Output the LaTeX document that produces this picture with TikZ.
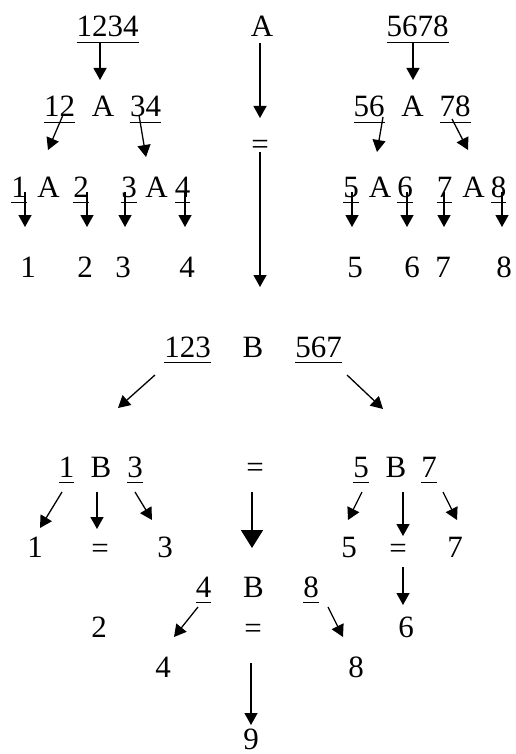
\documentclass[tikz,border=0pt]{standalone}
\usepackage{fontspec}
\setmainfont{Liberation Serif}
\usetikzlibrary{arrows.meta}
\tikzset{
  t/.style={inner sep=0pt, outer sep=0pt, anchor=base, font=\fontsize{31}{31}\selectfont},
  arr/.style={line width=1.3pt, -{Triangle[length=12pt,width=13pt]}},
  bigarr/.style={line width=1.8pt, -{Triangle[length=18pt,width=22pt]}},
  ulline/.style={line width=1.8pt},
}
\newcommand{\ulnode}[1]{\draw[ulline] ([yshift=-5.5pt]#1.base west) -- ([yshift=-5.5pt]#1.base east);}
\begin{document}
\begin{tikzpicture}[x=1pt,y=-1pt]
\useasboundingbox (0,0) rectangle (515,754);
% ---------- left tree ----------
\node[t] (n1234) at (107.5,37) {1234};
\node[t] (l12) at (59.5,117) {12};
\node[t] (lA) at (103,117) {A};
\node[t] (l34) at (145.5,117) {34};
\node[t] (l1) at (19,197) {1};
\node[t] (lA1) at (48.5,197) {A};
\node[t] (l2) at (81,197) {2};
\node[t] (l3) at (129,197) {3};
\node[t] (lA2) at (156.5,197) {A};
\node[t] (l4) at (182.5,197) {4};
\node[t] (o1) at (28,277) {1};
\node[t] (o2) at (85,277) {2};
\node[t] (o3) at (123,277) {3};
\node[t] (o4) at (187,277) {4};
\foreach \n in {n1234,l12,l34,l1,l2,l3,l4} {\ulnode{\n}}
\draw[arr] ([shift={(-7.5,6)}]n1234.base) -- ([shift={(-3,-37)}]lA.base);
\draw[arr] ([shift={(3.5,-2)}]l12.base) -- ([shift={(-0.5,-47)}]lA1.base);
\draw[arr] ([shift={(-6.5,-2)}]l34.base) -- ([shift={(-10.5,-40)}]lA2.base);
\draw[arr] ([shift={(6,-5)}]l1.base) -- ([shift={(-3,-50)}]o1.base);
\draw[arr] ([shift={(6,-5)}]l2.base) -- ([shift={(2,-50)}]o2.base);
\draw[arr] ([shift={(-4,-5)}]l3.base) -- ([shift={(2,-50)}]o3.base);
\draw[arr] ([shift={(2.5,-5)}]l4.base) -- ([shift={(-2,-50)}]o4.base);
% ---------- centre top ----------
\node[t] (Atop) at (262,37) {A};
\node[t] (eqtop) at (260,155) {=};
\draw[arr] ([shift={(-2,6)}]Atop.base) -- ([shift={(0,-37)}]eqtop.base);
% ---------- right tree ----------
\node[t] (n5678) at (417.5,37) {5678};
\node[t] (r56) at (369,117) {56};
\node[t] (rA) at (412.5,117) {A};
\node[t] (r78) at (455,117) {78};
\node[t] (r5) at (351,197) {5};
\node[t] (rA1) at (380,197) {A};
\node[t] (r6) at (405,197) {6};
\node[t] (r7) at (444.5,197) {7};
\node[t] (rA2) at (473.5,197) {A};
\node[t] (r8) at (498.5,197) {8};
\node[t] (p5) at (355,277) {5};
\node[t] (p6) at (412,277) {6};
\node[t] (p7) at (443,277) {7};
\node[t] (p8) at (504,277) {8};
\foreach \n in {n5678,r56,r78,r5,r6,r7,r8} {\ulnode{\n}}
\draw[arr] ([shift={(-4.5,6)}]n5678.base) -- ([shift={(0.5,-37)}]rA.base);
\draw[arr] ([shift={(14,0)}]r56.base) -- ([shift={(-3,-45)}]rA1.base);
\draw[arr] ([shift={(-3,2)}]r78.base) -- ([shift={(-5.5,-47)}]rA2.base);
\draw[arr] ([shift={(1,-5)}]r5.base) -- ([shift={(-3,-50)}]p5.base);
\draw[arr] ([shift={(2,-5)}]r6.base) -- ([shift={(-5,-50)}]p6.base);
\draw[arr] ([shift={(-0.5,-5)}]r7.base) -- ([shift={(1,-50)}]p7.base);
\draw[arr] ([shift={(3.5,-5)}]r8.base) -- ([shift={(-2,-50)}]p8.base);
% ---------- middle row ----------
\node[t] (m123) at (187.5,357) {123};
\node[t] (mB) at (253,357) {B};
\node[t] (m567) at (318.5,357) {567};
\foreach \n in {m123,m567} {\ulnode{\n}}
\draw[arr] ([shift={(0,-3)}]eqtop.base) -- ([shift={(7,-70)}]mB.base);
% ---------- lower ----------
\node[t] (b1) at (66.5,477) {1};
\node[t] (b1B) at (101,477) {B};
\node[t] (b3) at (135,477) {3};
\node[t] (eqmid) at (255,477) {=};
\node[t] (b5) at (361,477) {5};
\node[t] (bB2) at (396,477) {B};
\node[t] (b7) at (429,477) {7};
\foreach \n in {b1,b3,b5,b7} {\ulnode{\n}}
\draw[arr] ([shift={(-32.5,18)}]m123.base) -- ([shift={(17,-69)}]b1B.base);
\draw[arr] ([shift={(28.5,18)}]m567.base) -- ([shift={(-13,-68)}]bB2.base);
\node[t] (c1) at (35,557) {1};
\node[t] (ceq1) at (100,558) {=};
\node[t] (c3) at (165,557) {3};
\node[t] (c5) at (349,557) {5};
\node[t] (ceq2) at (398,558) {=};
\node[t] (c7) at (455,557) {7};
\draw[arr] ([shift={(-4.5,15)}]b1.base) -- ([shift={(5,-29)}]c1.base);
\draw[arr] ([shift={(-4,15)}]b1B.base) -- ([shift={(-3,-29)}]ceq1.base);
\draw[arr] ([shift={(0,15)}]b3.base) -- ([shift={(-13,-37)}]c3.base);
\draw[arr] ([shift={(1,15)}]b5.base) -- ([shift={(-1,-37)}]c5.base);
\draw[arr] ([shift={(7,15)}]bB2.base) -- ([shift={(5,-22)}]ceq2.base);
\draw[arr] ([shift={(14,15)}]b7.base) -- ([shift={(2,-37)}]c7.base);
\node[t] (d4) at (203.5,597) {4};
\node[t] (dB) at (253.5,597) {B};
\node[t] (d8) at (311,597) {8};
\foreach \n in {d4,d8} {\ulnode{\n}}
\draw[bigarr] ([shift={(-3,15)}]eqmid.base) -- ([shift={(-1.5,-49)}]dB.base);
\node[t] (e2) at (99,637) {2};
\node[t] (eeq) at (253,638) {=};
\node[t] (e6) at (406,637) {6};
\draw[arr] ([shift={(5,9)}]ceq2.base) -- ([shift={(-3,-32)}]e6.base);
\node[t] (f4) at (163,677) {4};
\node[t] (f8) at (356,677) {8};
\draw[arr] ([shift={(-5.5,10)}]d4.base) -- ([shift={(11,-40)}]f4.base);
\draw[arr] ([shift={(17,10)}]d8.base) -- ([shift={(-13,-40)}]f8.base);
\node[t] (g9) at (251,749) {9};
\draw[arr] ([shift={(-2,25)}]eeq.base) -- ([shift={(0,-24)}]g9.base);
\end{tikzpicture}
\end{document}
